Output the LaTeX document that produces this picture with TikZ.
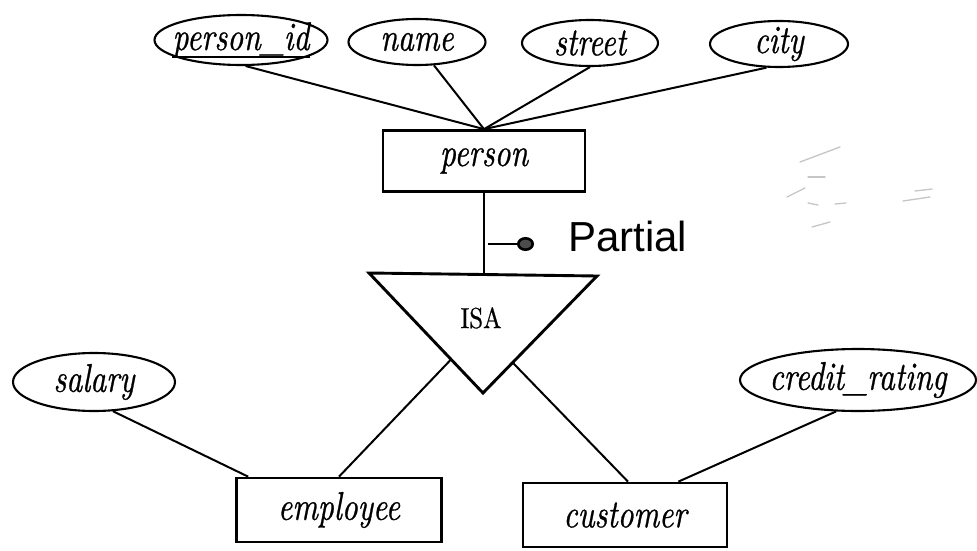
\documentclass[tikz,border=0pt]{standalone}
\usepackage{fontspec}
\usetikzlibrary{arrows.meta,calc,shapes.geometric}
\newfontfamily\handfont{Liberation Sans}
\newfontfamily\erfont{lmroman10-italic.otf}[FakeStretch=0.78, FakeBold=0.7]
\newfontfamily\isafont{lmroman10-regular.otf}[FakeStretch=0.85, FakeBold=0.6]
% condensed italic labels used inside the ER shapes
\newcommand{\erlabel}[1]{{\erfont\fontsize{40}{44}\selectfont #1}}
\begin{document}
\begin{tikzpicture}[x=1pt,y=-1pt,
  attr/.style={draw, ellipse, line width=2.1pt, inner sep=0pt},
  attrtext/.style={label={[inner sep=0pt]center:\erlabel{#1}}},
  entity/.style={draw, rectangle, line width=2.7pt, minimum width=202pt,
                 minimum height=61pt, inner sep=0pt},
  link/.style={line width=2pt},
  keyrule/.style={line width=1.8pt},
  scribble/.style={gray!45, line width=1.3pt, line cap=round}]
\useasboundingbox (0,0) rectangle (977,551);
\fill[white] (0,0) rectangle (977,551);

% attributes of person (ellipse sizes fixed, text laid over them)
\node[attr, minimum width=173pt, minimum height=50pt,
      label={[name=pidlabel, inner sep=0pt]center:\erlabel{person\_id}}] (pid) at (241,40) {};
\draw[keyrule] ([yshift=-7pt]pidlabel.base west) -- ([yshift=-7pt]pidlabel.base east);
\node[attr, attrtext=name, minimum width=137pt, minimum height=46pt] (name) at (417,42) {};
\node[attr, attrtext=street, minimum width=136pt, minimum height=46pt] (street) at (590,43) {};
\node[attr, attrtext=city, minimum width=138pt, minimum height=46pt] (city) at (779,44) {};

% entity sets
\node[entity] (person) at (484,161) {\erlabel{person}};
\node[entity, minimum width=205pt, minimum height=64pt] (employee) at (339,510) {\erlabel{employee}};
\node[entity, minimum width=204pt, minimum height=64pt] (customer) at (625,515) {\erlabel{customer}};

% attributes of the specialisations
\node[attr, attrtext=salary, minimum width=162pt, minimum height=58pt] (salary) at (94,382) {};
\node[attr, attrtext=credit\_rating, minimum width=236pt, minimum height=62pt] (credit) at (858,380) {};

% ISA triangle
\coordinate (isaL) at (369,273);
\coordinate (isaR) at (597,276);
\coordinate (isaB) at (483,393);
\draw[line width=2.9pt, line join=miter] (isaL) -- (isaR) -- (isaB) -- cycle;
\node[font=\isafont\fontsize{29}{32}\selectfont] (isa) at (481,318) {ISA};
\coordinate (isaEL) at ($(isaL)!0.72!(isaB)$);
\coordinate (isaER) at ($(isaR)!0.74!(isaB)$);

% connectors
\draw[link] (pid.-80) -- (person.north);
\draw[link] (name.-54) -- (person.north);
\draw[link] (street.south) -- (person.north);
\draw[link] (city.-118) -- (person.north);
\draw[link] (person.south) -- (person.south |- isaL);
\draw[link] (isaEL) -- (employee.north);
\draw[link] (isaER) -- ([xshift=3pt]customer.north);
\draw[link] (salary.-57) -- ([xshift=13pt]employee.north west);
\draw[link] (credit.-125) -- ([xshift=-50pt]customer.north east);

% handwritten note on the specialisation
\coordinate (pa) at (488,244);
\coordinate (pb) at (534,244);
\draw[line width=2.6pt, -{Circle[length=17pt,width=14pt,fill=black!70]}] (pa) -- (pb);
\node[font=\handfont\fontsize{42}{46}\selectfont, anchor=base west, inner sep=0pt]
  (partial) at (568,251) {Partial};

% faint erased pencil marks
\draw[scribble] (800,162) -- (840,147);
\draw[scribble] (808,177) -- (825,177);
\draw[scribble] (787,197) -- (805,188);
\draw[scribble] (808,203) -- (818,205);
\draw[scribble] (835,204) -- (846,203);
\draw[scribble] (812,227) -- (830,222);
\draw[scribble] (915,191) -- (932,189);
\draw[scribble] (903,201) -- (930,197);
\end{tikzpicture}
\end{document}
